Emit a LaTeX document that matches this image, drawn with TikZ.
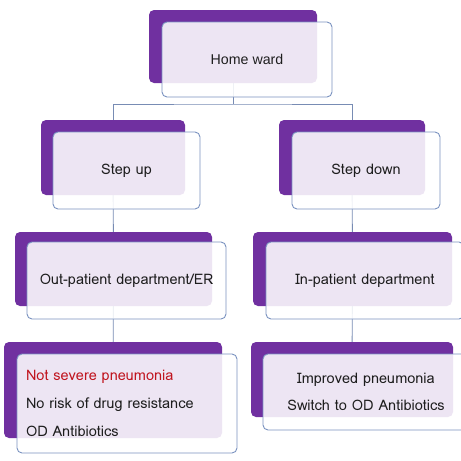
\documentclass[tikz,border=0pt]{standalone}
\usepackage{fontspec}
\setmainfont{Loma}
\newfontfamily\homefont{Liberation Sans}
\usetikzlibrary{backgrounds}
\definecolor{purp}{RGB}{112,48,160}
\definecolor{edgec}{RGB}{122,146,192}
\definecolor{connc}{RGB}{120,140,180}
\definecolor{redt}{RGB}{192,20,30}
\definecolor{txt}{RGB}{30,30,30}
\tikzset{
  back/.style={draw=none, fill=purp, rounded corners=5pt, inner sep=0pt},
  front/.style={draw=edgec, line width=0.9pt, fill=white, fill opacity=0.88, text opacity=1,
    rounded corners=5pt, inner sep=0pt, text=txt, font=\fontsize{14.5}{16}\selectfont},
  conn/.style={draw=connc, line width=0.9pt},
}
\begin{document}
\begin{tikzpicture}[x=1pt,y=-1pt]
\useasboundingbox (0,0) rectangle (461,461);
% back boxes
\node[back, minimum width=168pt, minimum height=73pt] (homeB) at (233,46.5) {};
\node[back, minimum width=144pt, minimum height=75pt] (suB) at (113,157.5) {};
\node[back, minimum width=146pt, minimum height=75pt] (sdB) at (352,157.5) {};
\node[back, minimum width=197pt, minimum height=74pt] (opB) at (113.5,269) {};
\node[back, minimum width=199pt, minimum height=74pt] (ipB) at (352.5,269) {};
\node[back, minimum width=218pt, minimum height=96pt] (nsB) at (113,390) {};
\node[back, minimum width=202pt, minimum height=75pt] (imB) at (352,379.5) {};
% front boxes
\node[front, minimum width=170pt, minimum height=75pt, font=\homefont\fontsize{14.2}{16}\selectfont] (homeF) at (247,59.5) {Home ward};
\node[front, minimum width=147pt, minimum height=77pt] (suF) at (126.5,170.5) {Step up};
\node[front, minimum width=148pt, minimum height=77pt] (sdF) at (366,170.5) {Step down};
\node[front, minimum width=199pt, minimum height=77pt] (opF) at (126.5,280.5) {Out-patient department/ER};
\node[front, minimum width=198pt, minimum height=77pt] (ipF) at (365,280.5) {In-patient department};
\node[front, minimum width=220pt, minimum height=99pt, text width=202pt, align=left, inner xsep=9pt,
  font=\fontsize{14.5}{28}\selectfont] (nsF) at (127,403.5)
  {\textcolor{redt}{Not severe pneumonia}\\No risk of drug resistance\\OD Antibiotics};
\node[front, minimum width=206pt, minimum height=76pt, align=center,
  font=\fontsize{14.5}{27}\selectfont] (imF) at (366,392)
  {Improved pneumonia\\Switch to OD Antibiotics};
% connectors
\coordinate (hub) at (233,104);
\begin{scope}[on background layer]
\fill[white] (0,0) rectangle (461,461);
\draw[conn] (homeB.center) -- (hub);
\draw[conn] (suB.center) |- (hub) -| (sdB.center);
\draw[conn] (suB.center) -- (opB.center) -- (nsB.center);
\draw[conn] (sdB.center) -- (ipB.center) -- (imB.center);
\end{scope}
\end{tikzpicture}
\end{document}
